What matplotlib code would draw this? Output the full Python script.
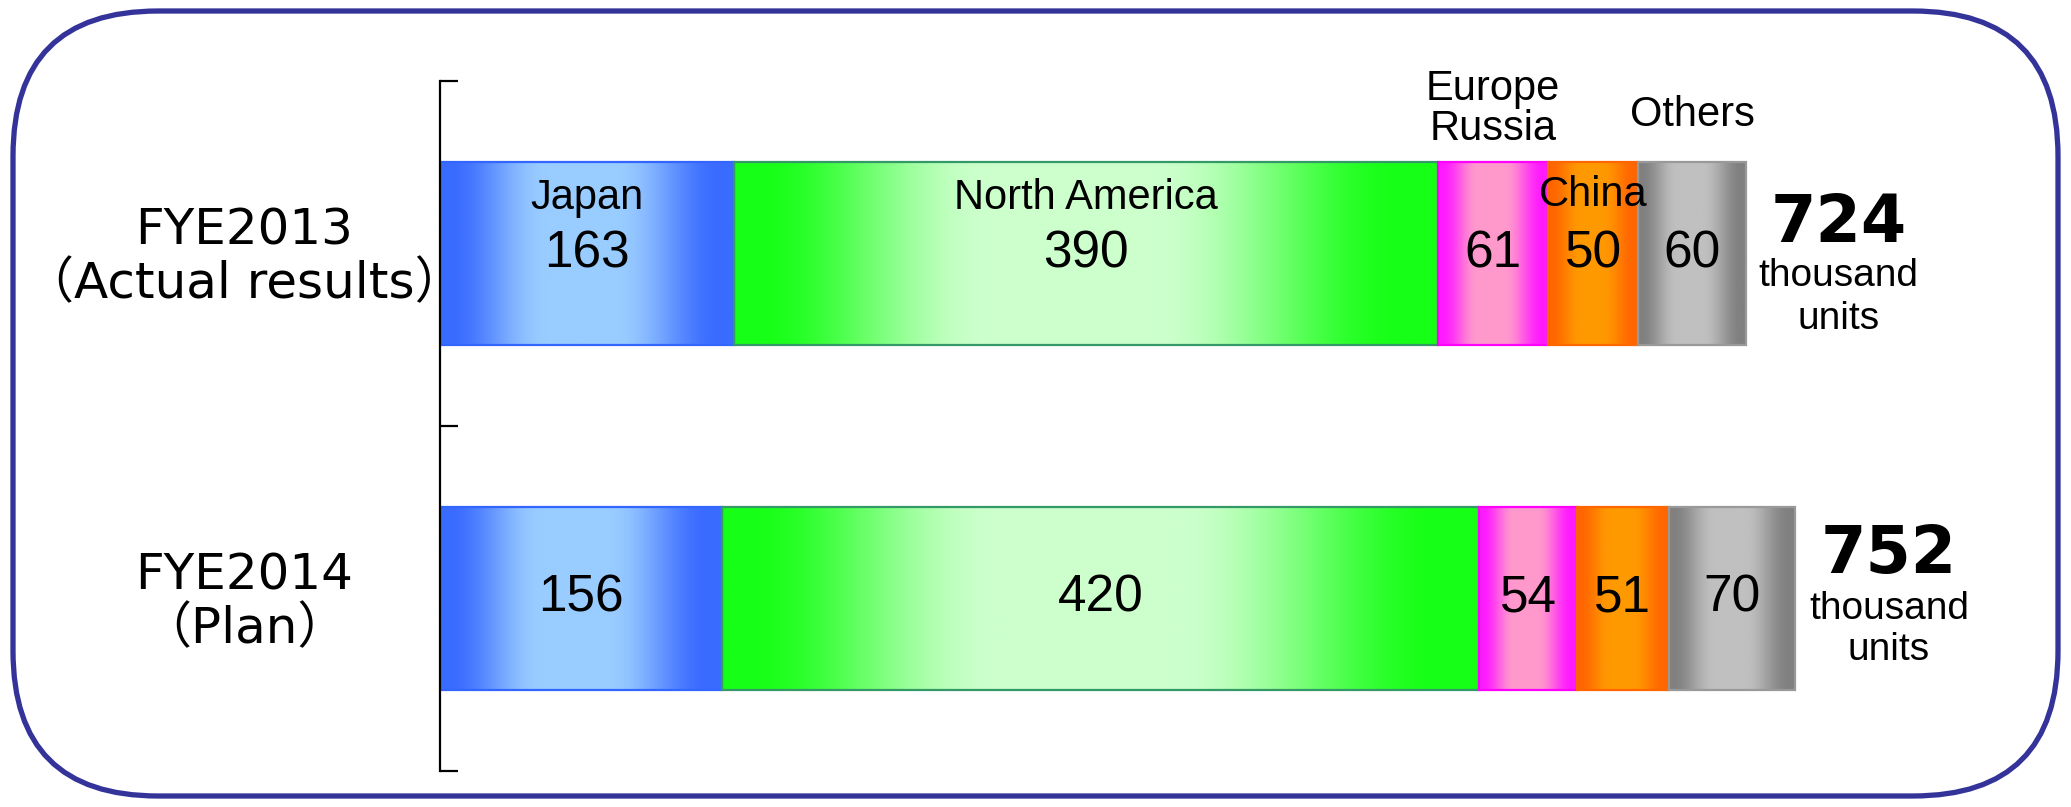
import numpy as np
import matplotlib
matplotlib.use("Agg")
import matplotlib.pyplot as plt
from matplotlib.colors import to_rgb
from matplotlib.patches import FancyBboxPatch
from matplotlib.transforms import blended_transform_factory

# --- data ---
years = ["FYE2013\n（Actual results）", "FYE2014\n（Plan）"]
regions = ["Japan", "North America", "Europe\nRussia", "China", "Others"]
units_2013 = [163, 390, 61, 50, 60]
units_2014 = [156, 420, 54, 51, 70]
totals = [724, 752]

# edge colour, centre colour, outline per region
dark = ["#3A6BFF", "#16FF16", "#FF1AFF", "#FF6600", "#808080"]
light = ["#99CCFF", "#CCFFCC", "#FF99CC", "#FF9900", "#C0C0C0"]
outline = ["#3366FF", "#339966", "#FF00FF", "#FF6600", "#999999"]

# where the region names sit for the first bar (data y, 0 = bar centre)
name_y = [-0.16, -0.16, -0.42, -0.17, -0.40]
# vertical offsets of the total / "thousand" / "units" lines per bar
total_dy = [(-0.085, 0.064, 0.19), (-0.125, 0.03, 0.15)]

sans = ["Liberation Sans", "DejaVu Sans"]
wide = ["DejaVu Sans", "Noto Sans CJK JP"]

W, H = 2071, 807
fig = plt.figure(figsize=(W / 100, H / 100), dpi=100)

x_max = 860
ax_w = x_max * 1.8045
ax = fig.add_axes([440 / W, (H - 771) / H, ax_w / W, 690 / H])


def gradient_fill(patch, c_dark, c_light, n=256):
    # horizontal "cylinder" shading: dark edges, light middle
    t = np.linspace(0, 1, n)
    w = np.interp(t, [0, 0.03, 0.36, 0.6, 0.95, 1], [0, 0, 1, 1, 0, 0])
    w = w * w * (3 - 2 * w)
    d, l = np.array(to_rgb(c_dark)), np.array(to_rgb(c_light))
    img = (d[None, :] * (1 - w[:, None]) + l[None, :] * w[:, None])[None, :, :]
    x0, y0 = patch.get_x(), patch.get_y()
    im = ax.imshow(img, extent=[x0, x0 + patch.get_width(), y0 + patch.get_height(), y0],
                   aspect="auto", interpolation="bilinear", zorder=1)
    im.set_clip_path(patch)


bar_h = 0.532
data = np.array([units_2013, units_2014])
lefts = np.hstack([np.zeros((2, 1)), np.cumsum(data, axis=1)[:, :-1]])

for i, reg in enumerate(regions):
    bars = ax.barh([0, 1], data[:, i], left=lefts[:, i], height=bar_h,
                   facecolor="none", edgecolor=outline[i], linewidth=1.6, zorder=2)
    for p in bars.patches:
        gradient_fill(p, dark[i], light[i])
    for row in range(2):
        cx = lefts[row, i] + data[row, i] / 2
        ax.text(cx, row, str(data[row, i]), ha="center", va="center",
                fontsize=37, family=sans, zorder=3)
    # region names only on the first bar
    cx = lefts[0, i] + data[0, i] / 2
    ax.text(cx, name_y[i], reg, ha="center", va="center", fontsize=30,
            family=sans, linespacing=1.0, zorder=3)

for row, tot in enumerate(totals):
    x = tot + 51
    dy = total_dy[row]
    ax.text(x, row + dy[0], str(tot), ha="center", va="center", fontsize=47,
            fontweight="bold", family=wide)
    ax.text(x, row + dy[1], "thousand", ha="center", va="center", fontsize=28, family=sans)
    ax.text(x, row + dy[2], "units", ha="center", va="center", fontsize=28, family=sans)

# category labels left of the axis
lab_tr = blended_transform_factory(fig.transFigure, ax.transData)
for row, lab in enumerate(years):
    ax.text(244 / W, row + 0.01, lab, transform=lab_tr, ha="center", va="center",
            fontsize=36, family=wide, linespacing=1.15, multialignment="center")

ax.set_xlim(0, x_max)
ax.set_ylim(1.5, -0.5)
ax.set_yticks([-0.5, 0.5, 1.5])
ax.set_yticklabels([])
ax.set_xticks([])
ax.tick_params(axis="y", direction="in", length=13, width=1.6, color="black")
for side in ["top", "right", "bottom"]:
    ax.spines[side].set_visible(False)
ax.spines["left"].set_linewidth(1.6)
ax.patch.set_alpha(0)

# rounded frame around the whole figure, drawn in pixel units
frame = fig.add_axes([0, 0, 1, 1], zorder=-1)
frame.set_xlim(0, W)
frame.set_ylim(H, 0)
frame.axis("off")
frame.add_patch(FancyBboxPatch((13, 11), W - 26, H - 22,
                               boxstyle="round,pad=0,rounding_size=145",
                               facecolor="white", edgecolor="#333399", linewidth=3.8))

fig.savefig("out.png", dpi=100)
